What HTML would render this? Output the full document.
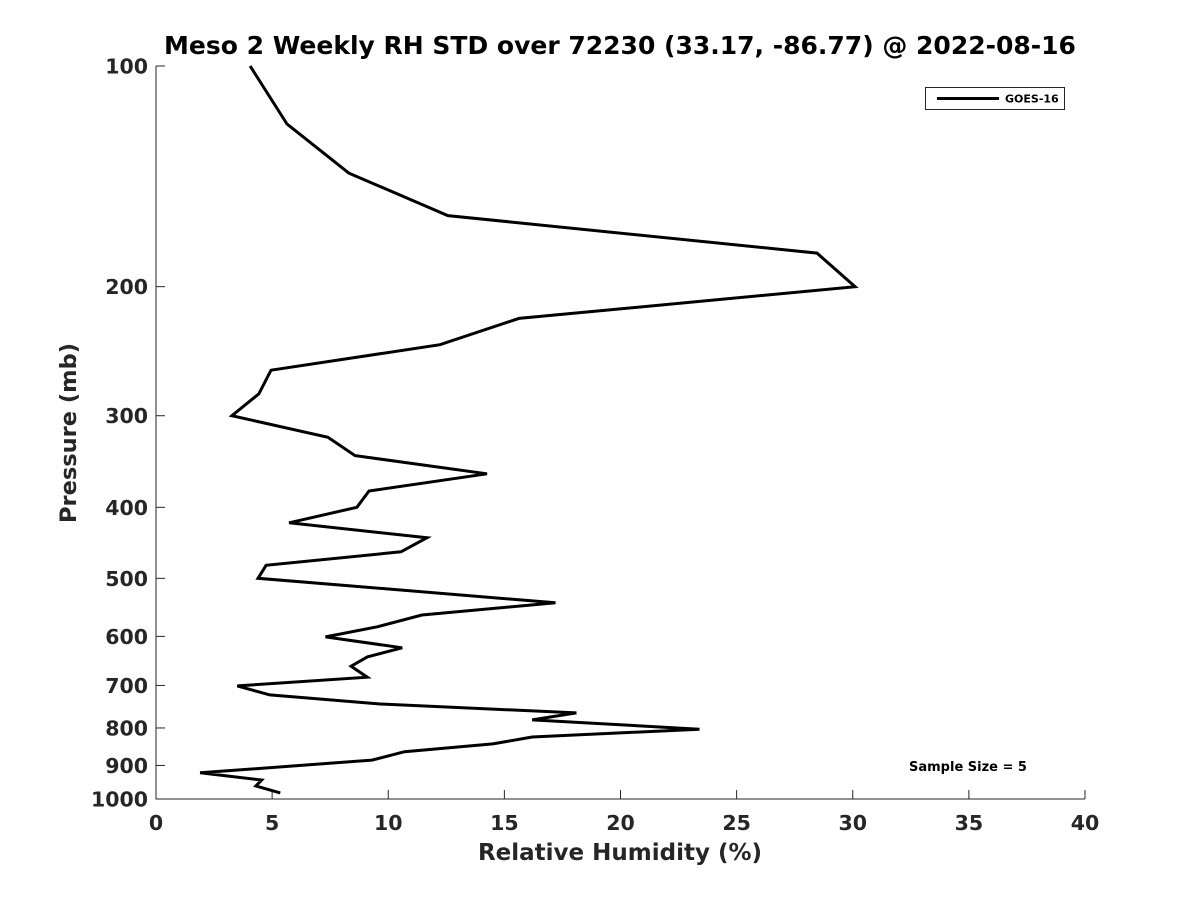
<!DOCTYPE html>
<html><head><meta charset="utf-8"><style>
html,body{margin:0;padding:0;background:#fff;}
svg{display:block;font-family:"DejaVu Sans","Liberation Sans",sans-serif;}
</style></head><body>
<svg id="chart" width="1200" height="900" viewBox="0 0 1200 900"></svg>
<script>
const pressures=[100,120,140,160,180,200,221,240,260,280,300,321,340,360,380,400,420,440,460,480,500,540,561,582,601,622,640,659,682,701,721,742,763,780,803,823,841,862,885,921,942,960,981];
const rhStd=[4.05,5.64,8.3,12.57,28.46,30.1,15.63,12.23,4.95,4.43,3.27,7.4,8.57,14.25,9.17,8.65,5.73,11.67,10.55,4.74,4.39,17.2,11.45,9.55,7.3,10.6,9.1,8.4,9.1,3.5,4.9,9.65,18.1,16.2,23.4,16.2,14.5,10.7,9.3,1.9,4.55,4.3,5.35];
const xTicks=[0,5,10,15,20,25,30,35,40];
const yTicks=[100,200,300,400,500,600,700,800,900,1000];
const NS="http://www.w3.org/2000/svg";
const svg=document.getElementById('chart');
const L=156,R=1085,T=66,B=799;
const xs=v=>L+(v-0)/(40-0)*(R-L);
const ys=p=>T+(Math.log10(p)-2)/(1)*(B-T);
function mk(tag,attrs,parent){const e=document.createElementNS(NS,tag);for(const k in attrs)e.setAttribute(k,attrs[k]);(parent||svg).appendChild(e);return e;}
let ax=mk('path',{d:`M${L},${T}V${B}H${R}`,stroke:'#262626','stroke-width':1,fill:'none'});


xTicks.forEach(v=>{
  const t=mk('line',{x1:xs(v),x2:xs(v),y1:B,y2:B-9,stroke:'#262626'});
  
  
  const l=mk('text',{x:xs(v),y:B+31,'text-anchor':'middle','font-size':20.5,'font-weight':'bold',fill:'#262626'});
  l.textContent=v;
  
  
});
yTicks.forEach(p=>{
  const t=mk('line',{x1:L,x2:L+9,y1:ys(p),y2:ys(p),stroke:'#262626'});
  
  
  const l=mk('text',{x:L-8,y:ys(p)+7.5,'text-anchor':'end','font-size':20.5,'font-weight':'bold',fill:'#262626'});
  l.textContent=p;
  
  
});
const pts=pressures.map((p,i)=>xs(rhStd[i]).toFixed(1)+','+ys(p).toFixed(1)).join(' ');
const line=mk('polyline',{points:pts,fill:'none',stroke:'#000','stroke-width':3,'stroke-linejoin':'miter'});


const title=mk('text',{x:620,y:54,'text-anchor':'middle','font-size':25,'font-weight':'bold',fill:'#000'});
title.textContent='Meso 2 Weekly RH STD over 72230 (33.17, -86.77) @ 2022-08-16';


const xt=mk('text',{x:620,y:860,'text-anchor':'middle','font-size':23,'font-weight':'bold',fill:'#262626'});
xt.textContent='Relative Humidity (%)';


const yt=mk('text',{x:0,y:0,transform:'translate(76,433) rotate(-90)','text-anchor':'middle','font-size':22.5,'font-weight':'bold',fill:'#262626'});
yt.textContent='Pressure (mb)';


const lg=mk('g',{});


mk('rect',{x:925.5,y:87.5,width:139,height:22,fill:'#fff',stroke:'#262626'},lg);
mk('line',{x1:937,x2:999,y1:98.5,y2:98.5,stroke:'#000','stroke-width':3},lg);
const lt=mk('text',{x:1005,y:102.5,'font-size':11,'font-weight':'bold',fill:'#000'},lg);
lt.textContent='GOES-16';
const ss=mk('text',{x:968,y:771,'text-anchor':'middle','font-size':13,'font-weight':'bold',fill:'#000'});
ss.textContent='Sample Size = 5';


</script>
</body></html>
